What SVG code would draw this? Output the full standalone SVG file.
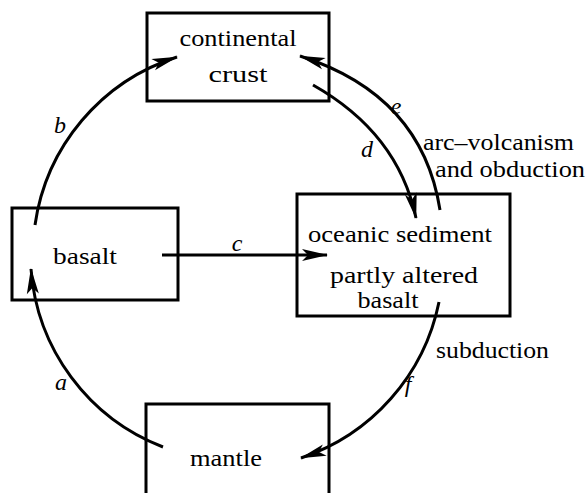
<svg xmlns="http://www.w3.org/2000/svg" width="587" height="493" viewBox="0 0 587 493">
<style>
.box{fill:none;stroke:#000;stroke-width:3}
.t{font-family:"Liberation Serif","Times New Roman",serif;font-size:23px;fill:#000;text-anchor:middle}
.l{font-family:"Liberation Serif","Times New Roman",serif;font-size:24px;font-style:italic;fill:#000;text-anchor:middle}
.s{font-family:"Liberation Serif","Times New Roman",serif;font-size:23px;fill:#000}
.c{fill:none;stroke:#000;stroke-width:3;marker-end:url(#ah)}
</style>
<defs>
<marker id="ah" viewBox="-27 -8 29 16" markerWidth="29" markerHeight="16" refX="0" refY="0" orient="auto" markerUnits="userSpaceOnUse">
<path d="M1,0 L-25,-6 L-19,0 L-25,6 Z" fill="#000"/>
</marker>
</defs>
<rect width="587" height="493" fill="#fff"/>
<g id="continental-crust">
<rect class="box" x="147" y="13" width="182" height="88"/>
<text class="t" x="238" y="46" textLength="117" lengthAdjust="spacingAndGlyphs">continental</text>
<text class="t" x="238" y="82" textLength="59" lengthAdjust="spacingAndGlyphs">crust</text>
</g>
<g id="basalt">
<rect class="box" x="12" y="208" width="166" height="92"/>
<text class="t" x="85" y="264" textLength="64" lengthAdjust="spacingAndGlyphs">basalt</text>
</g>
<g id="oceanic">
<rect class="box" x="297" y="194" width="213" height="122"/>
<text class="t" x="400" y="242" textLength="184" lengthAdjust="spacingAndGlyphs">oceanic sediment</text>
<text class="t" x="404" y="283" textLength="148" lengthAdjust="spacingAndGlyphs">partly altered</text>
<text class="t" x="388" y="308" textLength="61" lengthAdjust="spacingAndGlyphs">basalt</text>
</g>
<g id="mantle">
<path class="box" d="M146,495 V404 H329 V495"/>
<text class="t" x="226" y="466" textLength="72" lengthAdjust="spacingAndGlyphs">mantle</text>
</g>
<g id="connectors">
<path class="c" d="M35,225 A207,207 0 0 1 177,57"/>
<path class="c" d="M162,255 H327"/>
<path class="c" d="M313,85 Q398,133 416,218"/>
<path class="c" d="M440,210 Q422,95 300,56"/>
<path class="c" d="M439,302 A208,208 0 0 1 301,458"/>
<path class="c" d="M163,447 A207,207 0 0 1 31,269"/>
<text class="l" x="60" y="133">b</text>
<text class="l" x="237" y="251">c</text>
<text class="l" x="367" y="157">d</text>
<text class="l" x="396" y="114">e</text>
<text class="l" x="408" y="392">f</text>
<text class="l" x="61" y="390">a</text>
<text class="s" x="423" y="150" textLength="151" lengthAdjust="spacingAndGlyphs">arc–volcanism</text>
<text class="s" x="435" y="177" textLength="150" lengthAdjust="spacingAndGlyphs">and obduction</text>
<text class="s" x="436" y="358" textLength="113" lengthAdjust="spacingAndGlyphs">subduction</text>
</g>
</svg>
